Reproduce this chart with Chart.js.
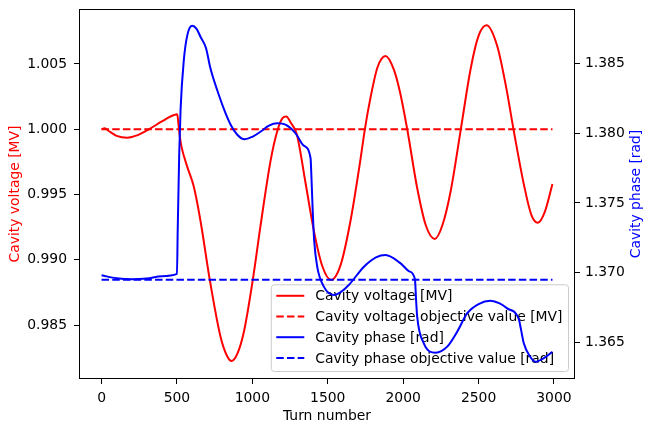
<!DOCTYPE html>
<html>
<head>
<meta charset="utf-8">
<script src="https://cdn.jsdelivr.net/npm/chart.js@4/dist/chart.umd.min.js"></script>
<style>
  html, body { margin: 0; padding: 0; background: #fff; }
  #wrap { width: 653px; height: 432px; }
</style>
</head>
<body>
<div id="wrap"><canvas id="cavityChart" width="653" height="432"></canvas></div>
<script>
// Cavity voltage / phase vs turn number

const turnRange = [0, 2990];

const voltageTurns = [0, 20, 50, 100, 170, 240, 314, 400, 460, 502, 510, 519, 530, 568, 612, 656, 718, 789, 830, 862, 900, 944, 1006, 1054, 1121, 1165, 1200, 1225, 1255, 1295, 1353, 1408, 1463, 1523, 1585, 1651, 1717, 1746, 1784, 1830, 1883, 1939, 1980, 2027, 2093, 2150, 2210, 2260, 2314, 2381, 2447, 2500, 2553, 2624, 2680, 2734, 2800, 2850, 2893, 2940, 2990];
const voltageValues = [1.0000, 1.00008, 0.99985, 0.99950, 0.99936, 0.99955, 1.0000, 1.0006, 1.0010, 1.00115, 1.0004, 0.99945, 0.99867, 0.99714, 0.9956, 0.9930, 0.98846, 0.98412, 0.98270, 0.98226, 0.98280, 0.98450, 0.98870, 0.99260, 0.99760, 0.99985, 1.00085, 1.00098, 1.00050, 0.99960, 0.99587, 0.99222, 0.98955, 0.98846, 0.98960, 0.99300, 0.99770, 1.0000, 1.00245, 1.00475, 1.00561, 1.00455, 1.00280, 1.0000, 0.99550, 0.99265, 0.9916, 0.99265, 0.99520, 0.99990, 1.00460, 1.00715, 1.00796, 1.00636, 1.00340, 0.99985, 0.99580, 0.99345, 0.99285, 0.99370, 0.99581];

const phaseTurns = [0, 100, 200, 300, 400, 500, 505, 515, 524, 546, 570, 601, 630, 656, 693, 722, 778, 820, 857, 900, 948, 1000, 1054, 1110, 1165, 1220, 1287, 1340, 1386, 1392, 1400, 1410, 1430, 1474, 1541, 1629, 1740, 1820, 1883, 1983, 2040, 2078, 2086, 2093, 2137, 2215, 2292, 2360, 2425, 2500, 2580, 2640, 2690, 2767, 2780, 2800, 2840, 2878, 2933, 2990];
const phaseValues = [1.36981, 1.36960, 1.36953, 1.36958, 1.36975, 1.36991, 1.3730, 1.3785, 1.3817, 1.3853, 1.3871, 1.38772, 1.38750, 1.38693, 1.3861, 1.38466, 1.38275, 1.38150, 1.3806, 1.37990, 1.37957, 1.37975, 1.38011, 1.38055, 1.38072, 1.38062, 1.3800, 1.37912, 1.37821, 1.3768, 1.3745, 1.37230, 1.37043, 1.36900, 1.3684, 1.3690, 1.37043, 1.37110, 1.37127, 1.37067, 1.37010, 1.36953, 1.3680, 1.36684, 1.36493, 1.36426, 1.36469, 1.36580, 1.36709, 1.36775, 1.36799, 1.36780, 1.36744, 1.36666, 1.3660, 1.36493, 1.3640, 1.36361, 1.36386, 1.36433];

const voltageObjective = 1.0;
const phaseObjective = 1.3695;

const xTicks = [0, 500, 1000, 1500, 2000, 2500, 3000];
const voltageTicks = [0.985, 0.990, 0.995, 1.000, 1.005];
const phaseTicks = [1.365, 1.370, 1.375, 1.380, 1.385];

const FONT = { family: 'DejaVu Sans', size: 13.9 };

const toPoints = (xs, ys) => xs.map((x, i) => ({ x, y: ys[i] }));
const flatLine = (v) => turnRange.map(x => ({ x, y: v }));

// matplotlib style: full black frame round the axes
const framePlugin = {
  id: 'frame',
  afterDraw(chart) {
    const a = chart.chartArea;
    const ctx = chart.ctx;
    ctx.save();
    ctx.strokeStyle = '#000';
    ctx.lineWidth = 1;
    ctx.strokeRect(Math.round(a.left) + 0.5, Math.round(a.top) + 0.5, Math.round(a.right - a.left) - 1, Math.round(a.bottom - a.top) - 1);
    // right axis title, reads bottom-to-top like the left one
    ctx.fillStyle = '#0000ff';
    ctx.font = `${FONT.size}px ${FONT.family}`;
    ctx.textAlign = 'center';
    ctx.textBaseline = 'middle';
    ctx.translate(636, (a.top + a.bottom) / 2);
    ctx.rotate(-Math.PI / 2);
    ctx.fillText('Cavity phase [rad]', 0, 0);
    ctx.restore();
  }
};

// legend belongs to the voltage axes, so the phase lines are drawn over it
const legendPlugin = {
  id: 'innerLegend',
  afterDatasetDraw(chart, args) {
    if (args.index !== 1) return;
    const a = chart.chartArea;
    const ctx = chart.ctx;
    ctx.save();
    ctx.font = `${FONT.size}px ${FONT.family}`;
    const sets = chart.data.datasets;
    const textW = Math.max(...sets.map(d => ctx.measureText(d.label).width));
    const boxW = 44 + textW + 6;
    const boxH = 86.7;
    const right = a.right - 6.5;
    const bottom = a.bottom - 7.5;
    const left = right - boxW;
    const top = bottom - boxH;
    ctx.beginPath();
    ctx.roundRect(left, top, boxW, boxH, 3);
    ctx.fillStyle = 'rgba(255,255,255,0.8)';
    ctx.fill();
    ctx.strokeStyle = '#cccccc';
    ctx.lineWidth = 1;
    ctx.stroke();
    sets.forEach((d, i) => {
      const y = top + 11 + i * 20.7;
      ctx.beginPath();
      ctx.setLineDash(d.borderDash || []);
      ctx.strokeStyle = d.borderColor;
      ctx.lineWidth = d.borderWidth;
      ctx.moveTo(left + 5, y);
      ctx.lineTo(left + 33, y);
      ctx.stroke();
      ctx.setLineDash([]);
      ctx.fillStyle = '#000';
      ctx.textAlign = 'left';
      ctx.textBaseline = 'middle';
      ctx.fillText(d.label, left + 44, y + 1);
    });
    ctx.restore();
  }
};

const dash = [7.5, 3.2];
const tickGrid = { drawOnChartArea: false, drawTicks: true, tickLength: 5, color: '#000', tickWidth: 1 };
const noPad = (s) => { s.paddingTop = 0; s.paddingBottom = 0; s.paddingLeft = 0; s.paddingRight = 0; };

new Chart(document.getElementById('cavityChart').getContext('2d'), {
  type: 'line',
  data: {
    datasets: [
      { label: 'Cavity voltage [MV]', data: toPoints(voltageTurns, voltageValues), borderColor: '#ff0000', borderWidth: 2, yAxisID: 'y', order: 4 },
      { label: 'Cavity voltage objective value [MV]', data: flatLine(voltageObjective), borderColor: '#ff0000', borderWidth: 2, borderDash: dash, yAxisID: 'y', order: 3 },
      { label: 'Cavity phase [rad]', data: toPoints(phaseTurns, phaseValues), borderColor: '#0000ff', borderWidth: 2, yAxisID: 'y1', order: 2 },
      { label: 'Cavity phase objective value [rad]', data: flatLine(phaseObjective), borderColor: '#0000ff', borderWidth: 2, borderDash: dash, yAxisID: 'y1', order: 1 }
    ]
  },
  options: {
    responsive: false,
    animation: false,
    devicePixelRatio: 1,
    layout: { padding: { top: 9, left: 0, right: 0, bottom: 0 } },
    elements: {
      point: { radius: 0 },
      line: { cubicInterpolationMode: 'monotone', fill: false, borderCapStyle: 'butt' }
    },
    plugins: { legend: { display: false }, tooltip: { enabled: false } },
    scales: {
      x: {
        type: 'linear',
        min: -149.5,
        max: 3139.5,
        afterBuildTicks: (s) => { s.ticks = xTicks.map(v => ({ value: v })); },
        afterFit: (s) => { s.height = 53; noPad(s); },
        grid: tickGrid,
        border: { display: false },
        ticks: { color: '#000', font: FONT, padding: 6, maxRotation: 0, callback: (v) => String(v) },
        title: { display: true, text: 'Turn number', color: '#000', font: FONT, padding: { top: 0, bottom: 7 } }
      },
      y: {
        type: 'linear',
        position: 'left',
        min: 0.98088,
        max: 1.00921,
        afterBuildTicks: (s) => { s.ticks = voltageTicks.map(v => ({ value: v })); },
        afterFit: (s) => { s.width = 79; noPad(s); },
        grid: tickGrid,
        border: { display: false },
        ticks: { color: '#000', font: FONT, padding: 7, callback: (v) => v.toFixed(3) },
        title: { display: true, text: 'Cavity voltage [MV]', color: '#ff0000', font: FONT, padding: { top: 7, bottom: 0 } }
      },
      y1: {
        type: 'linear',
        position: 'right',
        min: 1.36237,
        max: 1.38892,
        afterBuildTicks: (s) => { s.ticks = phaseTicks.map(v => ({ value: v })); },
        afterFit: (s) => { s.width = 78; noPad(s); },
        grid: tickGrid,
        border: { display: false },
        ticks: { color: '#000', font: FONT, padding: 5, callback: (v) => v.toFixed(3) }
      }
    }
  },
  plugins: [framePlugin, legendPlugin]
});
</script>
</body>
</html>
